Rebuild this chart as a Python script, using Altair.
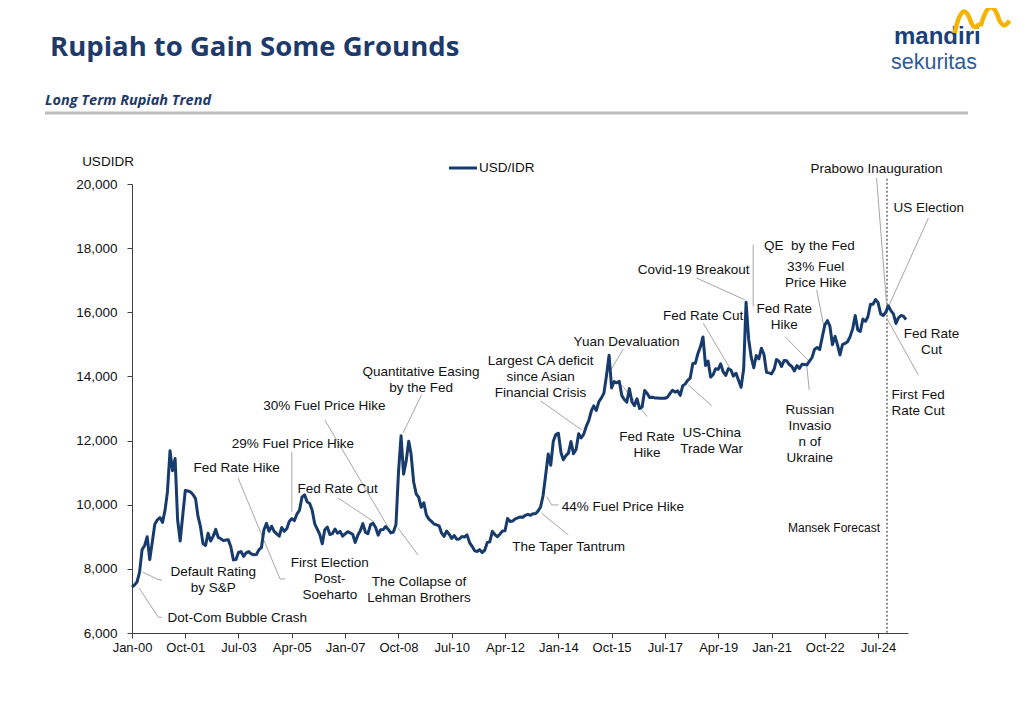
import altair as alt
import pandas as pd

# ---------------- data ----------------
# Month-end USD/IDR, Jan-2000 .. Jun-2025
usd_idr = [
    # 2000
    7430, 7500, 7590, 7900, 8600, 8730, 9000, 8290, 8850, 9400, 9530, 9600,
    # 2001
    9450, 9840, 10400, 11680, 11060, 11440, 9530, 8870, 9680, 10440, 10430, 10400,
    # 2002
    10320, 10190, 9660, 9320, 8790, 8730, 9110, 8870, 9020, 9230, 8980, 8940,
    # 2003
    8880, 8900, 8910, 8680, 8280, 8290, 8510, 8540, 8390, 8500, 8540, 8470,
    # 2004
    8440, 8450, 8590, 8660, 9210, 9420, 9170, 9330, 9170, 9090, 9020, 9290,
    # 2005
    9170, 9260, 9480, 9570, 9500, 9710, 9820, 10240, 10310, 10090, 10040, 9830,
    # 2006
    9400, 9230, 9080, 8780, 9220, 9300, 9070, 9100, 9240, 9110, 9170, 9020,
    # 2007
    9090, 9160, 9120, 9080, 8820, 9050, 9190, 9410, 9140, 9100, 9380, 9420,
    # 2008
    9290, 9050, 9220, 9230, 9320, 9230, 9120, 9150, 9380, 11000, 12150, 10950,
    # 2009
    11360, 11980, 11580, 10710, 10340, 10230, 9920, 10060, 9680, 9550, 9480, 9400,
    # 2010
    9370, 9340, 9120, 9010, 9180, 9080, 8950, 9040, 8920, 8930, 9010, 8990,
    # 2011
    9060, 8820, 8710, 8570, 8540, 8600, 8510, 8580, 8820, 8840, 9170, 9070,
    # 2012
    9000, 9090, 9180, 9190, 9570, 9480, 9490, 9560, 9590, 9620, 9610, 9670,
    # 2013
    9700, 9670, 9720, 9720, 9800, 9930, 10280, 10920, 11580, 11230, 11980, 12190,
    # 2014
    12230, 11630, 11400, 11530, 11610, 11970, 11590, 11720, 12210, 12080, 12200, 12440,
    # 2015
    12630, 12930, 13080, 12940, 13210, 13330, 13480, 14030, 14660, 13640, 13840, 13800,
    # 2016
    13850, 13400, 13280, 13200, 13620, 13210, 13090, 13300, 13000, 13050, 13560, 13470,
    # 2017
    13340, 13350, 13330, 13330, 13320, 13320, 13320, 13350, 13470, 13570, 13510, 13550,
    # 2018
    13410, 13710, 13760, 13880, 13950, 14400, 14410, 14710, 14930, 15230, 14340, 14480,
    # 2019
    13980, 14060, 14240, 14220, 14390, 14140, 14030, 14240, 14200, 14010, 14100, 13880,
    # 2020
    13660, 14230, 16310, 15160, 14610, 14270, 14650, 14550, 14880, 14690, 14130, 14110,
    # 2021
    14080, 14230, 14530, 14470, 14310, 14500, 14490, 14370, 14310, 14170, 14340, 14250,
    # 2022
    14380, 14370, 14360, 14480, 14590, 14850, 14900, 14840, 15230, 15600, 15740, 15570,
    # 2023
    14990, 15250, 15000, 14670, 14990, 15030, 15080, 15240, 15490, 15900, 15450, 15400,
    # 2024
    15790, 15720, 15860, 16250, 16250, 16400, 16300, 15950, 15900, 16000, 16200, 16050,
    # 2025
    15950, 15650, 15820, 15900, 15880, 15770,
]
series_start = "2000-01-01"

# x-axis tick labels: every 21 months from Jan-00 (months since Jan-2000)
tick_months = [0, 21, 42, 63, 84, 105, 126, 147, 168, 189, 210, 231, 252, 273, 294]
y_ticks = [6000, 8000, 10000, 12000, 14000, 16000, 18000, 20000]

# annotations: text, anchor of first line (months since Jan-2000, value), alignment
ann_text = [
    "Default Rating\nby S&P", "Dot-Com Bubble Crash", "Fed Rate Hike",
    "29% Fuel Price Hike", "30% Fuel Price Hike", "Fed Rate Cut",
    "First Election\nPost-\nSoeharto", "The Collapse of\nLehman Brothers",
    "Quantitative Easing\nby the Fed", "Largest CA deficit\nsince Asian\nFinancial Crisis",
    "Yuan Devaluation", "Fed Rate\nHike", "US-China\nTrade War", "Fed Rate Cut",
    "Covid-19 Breakout", "QE\u00a0 by the Fed", "33% Fuel\nPrice Hike", "Fed Rate\nHike",
    "Russian\nInvasio\nn of\nUkraine", "Prabowo Inauguration", "US Election",
    "Fed Rate\nCut", "First Fed\nRate Cut", "44% Fuel Price Hike", "The Taper Tantrum",
]
ann_month = [32.0, 13.9, 41.25, 63.4, 75.8, 81.0, 78.0, 113.1, 113.9, 161.0,
             194.9, 202.9, 228.4, 225.1, 221.3, 249.0, 269.4, 257.0, 267.1, 293.4,
             300.0, 315.1, 299.3, 169.3, 172.1]
ann_value = [7894, 6459, 11139, 11897, 13083, 10484, 8184, 7601, 14153, 14487,
             15070, 12106, 12231, 15891, 17326, 18053, 17410, 16100, 12958, 20477,
             19251, 15320, 13426, 9941, 8693]
ann_align = ["center", "left", "center", "center", "center", "center", "center", "center",
             "center", "center", "center", "center", "center", "center", "center", "left",
             "center", "center", "center", "center", "left", "center", "left", "left", "center"]

forecast_label = "Mansek Forecast"
forecast_label_month = 276.6
forecast_label_value = 9286
forecast_month = 297.5
forecast_top, forecast_bottom = 20165, 6000

# leader line segments (months, value) -> (months, value)
lead_m1 = [4.14, 10.24, 2.88, 10.36, 41.8, 58.3, 63.0, 76.0, 81.2, 104.8, 114.1, 161.0,
           193.6, 203.0, 228.4, 225.1, 222.5, 244.8, 269.8, 257.3, 266.9, 293.4, 313.8,
           309.8, 163.4, 165.4, 171.9]
lead_v1 = [7904, 7668, 7395, 6490, 10836, 7685, 11648, 12646, 10212, 9276, 13426, 13239,
           14861, 12749, 13083, 15663, 17067, 18106, 16702, 15245, 13582, 20187, 18939,
           14050, 10253, 9994, 9058]
lead_m2 = [10.24, 11.8, 10.36, 11.7, 58.3, 60.3, 63.0, 100.9, 95.4, 112.7, 106.8, 177.2,
           188.1, 192.9, 219.2, 235.6, 241.5, 244.8, 273.0, 266.5, 265.8, 297.4, 298.4,
           297.4, 165.4, 168.0, 161.4]
lead_v2 = [7668, 7654, 6490, 6490, 7685, 7685, 9776, 9308, 9464, 8434, 12240, 12334,
           14122, 13738, 13738, 14259, 16390, 16181, 15401, 14496, 14362, 16181, 16234,
           15819, 9994, 9994, 9735]


def mdate(m):
    whole = int(m)
    ts = pd.Timestamp(series_start) + pd.DateOffset(months=whole) + pd.Timedelta(days=(m - whole) * 30.4)
    return ts.strftime("%Y-%m-%dT%H:%M:%S")


series = pd.DataFrame({
    "date": pd.date_range(series_start, periods=len(usd_idr), freq="MS").strftime("%Y-%m-%dT%H:%M:%S"),
    "usd_idr": usd_idr,
})
ann = pd.DataFrame({
    "text": ann_text,
    "date": [mdate(m) for m in ann_month],
    "value": ann_value,
    "align": ann_align,
})
leads = pd.DataFrame({
    "d1": [mdate(m) for m in lead_m1], "v1": lead_v1,
    "d2": [mdate(m) for m in lead_m2], "v2": lead_v2,
})
fc = pd.DataFrame({"date": [mdate(forecast_month)], "top": [forecast_top], "bottom": [forecast_bottom]})
fc_lab = pd.DataFrame({"text": [forecast_label], "date": [mdate(forecast_label_month)],
                       "value": [forecast_label_value]})

# ---------------- styling ----------------
NAVY = "#173B6C"
TXT = "#111111"
FONT = "Liberation Sans"
AXC = "#404040"

xscale = alt.Scale(domain=[alt.DateTime(year=2000, month=1, date=1),
                           alt.DateTime(year=2025, month=6, date=25)])
yscale = alt.Scale(domain=[6000, 20000], nice=False, zero=False)
xaxis = alt.Axis(
    values=[alt.DateTime(year=2000 + m // 12, month=m % 12 + 1, date=1) for m in tick_months],
    format="%b-%y", title=None, grid=False, labelFont=FONT, labelFontSize=13,
    labelColor=TXT, tickSize=5, tickColor=AXC, domainColor=AXC, labelPadding=3,
    labelOverlap=False, labelFlush=False,
)
yaxis = alt.Axis(
    values=y_ticks, format=",.0f", title=None, grid=False, labelFont=FONT, labelFontSize=13.5,
    labelColor=TXT, tickSize=5, tickColor=AXC, domainColor=AXC, labelPadding=10,
)

line = alt.Chart(series).mark_line(color=NAVY, strokeWidth=3, strokeJoin="round").encode(
    x=alt.X("date:T", scale=xscale, axis=xaxis),
    y=alt.Y("usd_idr:Q", scale=yscale, axis=yaxis),
)

leaders = alt.Chart(leads).mark_rule(color="#a6a6a6", strokeWidth=1).encode(
    x=alt.X("d1:T", scale=xscale, axis=xaxis),
    y=alt.Y("v1:Q", scale=yscale, axis=yaxis),
    x2="d2:T", y2="v2:Q",
)

forecast = alt.Chart(fc).mark_rule(color="#555555", strokeWidth=1.3, strokeDash=[2, 2]).encode(
    x=alt.X("date:T", scale=xscale, axis=xaxis),
    y=alt.Y("top:Q", scale=yscale, axis=yaxis),
    y2="bottom:Q",
)


def ann_layer(align):
    return alt.Chart(ann).transform_filter(alt.datum.align == align).mark_text(
        align=align, baseline="middle", font=FONT, fontSize=13.5, color=TXT,
        lineBreak="\n", lineHeight=16,
    ).encode(
        x=alt.X("date:T", scale=xscale, axis=xaxis),
        y=alt.Y("value:Q", scale=yscale, axis=yaxis),
        text="text:N",
    )


fc_text = alt.Chart(fc_lab).mark_text(
    align="center", baseline="middle", font=FONT, fontSize=12, color=TXT
).encode(
    x=alt.X("date:T", scale=xscale, axis=xaxis),
    y=alt.Y("value:Q", scale=yscale, axis=yaxis),
    text="text:N",
)


def label(text, x, y, **kw):
    return alt.Chart(pd.DataFrame({"t": [text]})).mark_text(**kw).encode(
        x=alt.value(x), y=alt.value(y), text="t:N"
    )


# header / slide furniture (pixel positions relative to the plot origin)
title = label("Rupiah to Gain Some Grounds", -82, -128, align="left", baseline="alphabetic",
              font="Open Sans", fontSize=27.5, fontWeight="bold", color="#1D3A6B")
subtitle = label("Long Term Rupiah Trend", -87, -79, align="left", baseline="alphabetic",
                 font="Open Sans", fontSize=14.5, fontWeight="bold", fontStyle="italic",
                 color="#1D3A6B")
sep = alt.Chart(pd.DataFrame({"a": [0]})).mark_rule(color="#BDBDBD", strokeWidth=3).encode(
    x=alt.value(-87), x2=alt.value(836), y=alt.value(-71)
)
logo1 = label("mandiri", 762, -140, align="left", baseline="alphabetic", font=FONT,
              fontSize=24, fontWeight="bold", color="#1C3F7A")
logo2 = label("sekuritas", 759, -115, align="left", baseline="alphabetic", font=FONT,
              fontSize=21.5, color="#2D5B9A")
wave = alt.Chart(pd.DataFrame({"a": [0]})).mark_point(
    shape="M-1,0.55 Q-0.72,-0.75 -0.42,0.1 Q-0.28,0.5 -0.1,0.2 M-0.05,0.3 Q0.3,-0.95 0.62,0.05 Q0.8,0.45 1,0.1",
    size=3000, filled=False, stroke="#F5B400", strokeWidth=4.5, opacity=1,
).encode(x=alt.value(850), y=alt.value(-166))
ytitle = label("USDIDR", -24, -22, align="center", baseline="middle", font=FONT,
               fontSize=13.5, color=TXT)
leg_line = alt.Chart(pd.DataFrame({"a": [0]})).mark_rule(color=NAVY, strokeWidth=3).encode(
    x=alt.value(317), x2=alt.value(345), y=alt.value(-16)
)
leg_text = label("USD/IDR", 347, -16, align="left", baseline="middle", font=FONT,
                 fontSize=13.5, color=TXT)

chart = alt.layer(
    forecast, leaders, line, ann_layer("center"), ann_layer("left"), fc_text,
    title, subtitle, sep, logo1, logo2, wave, ytitle, leg_line, leg_text,
).properties(
    width=776, height=449,
    autosize=alt.AutoSizeParams(type="none"),
    padding={"left": 124, "top": 176, "right": 108, "bottom": 70},
).configure(background="white").configure_view(strokeWidth=0)

chart.save("out.html", embed_options={"renderer": "svg", "actions": False})
